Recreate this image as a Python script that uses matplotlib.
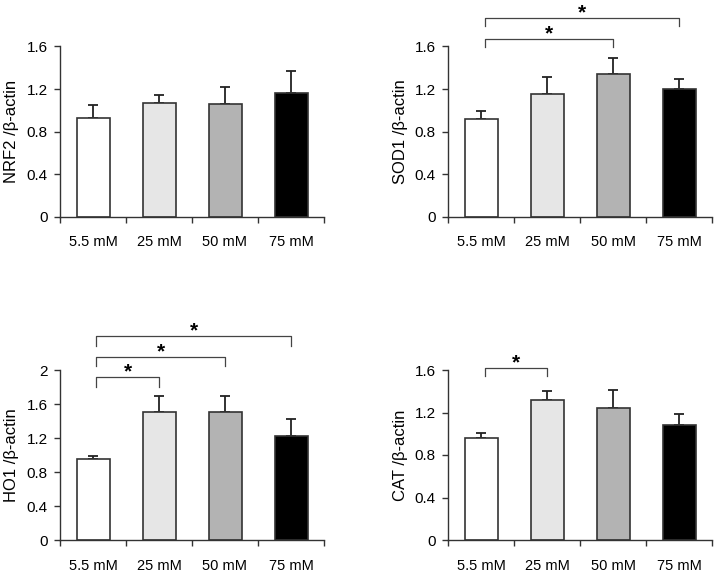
import matplotlib
matplotlib.use("Agg")
import matplotlib.pyplot as plt
from matplotlib.ticker import FuncFormatter, FixedLocator

plt.rcParams['font.family'] = ['Liberation Sans', 'DejaVu Sans']

categories = ["5.5 mM", "25 mM", "50 mM", "75 mM"]
bar_colors = ["#ffffff", "#e6e6e6", "#b3b3b3", "#000000"]

nrf2_mean = [0.93, 1.07, 1.06, 1.16]
nrf2_err = [0.12, 0.07, 0.155, 0.21]
sod1_mean = [0.92, 1.15, 1.345, 1.20]
sod1_err = [0.07, 0.16, 0.15, 0.095]
ho1_mean = [0.95, 1.51, 1.51, 1.22]
ho1_err = [0.04, 0.18, 0.18, 0.20]
cat_mean = [0.96, 1.32, 1.24, 1.08]
cat_err = [0.05, 0.08, 0.17, 0.11]

# brackets: (from index, to index, bracket y, leg bottom y)
sod1_brackets = [(0, 2, 1.674, 1.595), (0, 3, 1.87, 1.79)]
ho1_brackets = [(0, 1, 1.92, 1.80), (0, 2, 2.157, 2.05), (0, 3, 2.40, 2.28)]
cat_brackets = [(0, 1, 1.622, 1.54)]

W, H = 715, 573
fig = plt.figure(figsize=(W / 100, H / 100), dpi=100)

def px_axes(left, right, bottom, top):
    return fig.add_axes([left / W, 1 - bottom / H, (right - left) / W, (bottom - top) / H])

def panel(ax, means, errs, ylabel, ymax, brackets):
    x = [i + 0.5 for i in range(len(categories))]
    ax.bar(x, means, width=0.5, color=bar_colors, edgecolor="#333333", linewidth=1.2, zorder=2)
    ax.errorbar(x, means, yerr=[[0] * len(errs), errs], fmt="none", ecolor="#222222",
                elinewidth=1.3, capsize=3.5, capthick=1.3, zorder=1)
    ax.set_xlim(0, 4)
    ax.set_ylim(0, ymax)
    ax.set_yticks([i * 0.4 for i in range(int(round(ymax / 0.4)) + 1)])
    ax.yaxis.set_major_formatter(FuncFormatter(lambda v, p: f"{v:g}"))
    ax.set_xticks(x)
    ax.set_xticklabels(categories)
    ax.xaxis.set_minor_locator(FixedLocator([0, 1, 2, 3, 4]))
    ax.tick_params(axis="x", which="major", length=0, pad=13.5, labelsize=10.5)
    ax.tick_params(axis="x", which="minor", length=4, width=1, color="#333333", direction="out")
    ax.tick_params(axis="y", length=4, width=1, color="#333333", pad=5, labelsize=11)
    for s in ["top", "right"]:
        ax.spines[s].set_visible(False)
    for s in ["left", "bottom"]:
        ax.spines[s].set_color("#333333")
        ax.spines[s].set_linewidth(1)
    ax.set_ylabel(ylabel, fontsize=12, labelpad=5)
    for i, j, yb, yl in brackets:
        xi, xj = x[i] + 0.05, x[j]
        ax.plot([xi, xi, xj, xj], [yl, yb, yb, yl], color="#444444", lw=0.9, clip_on=False)
        ax.annotate("*", xy=((xi + xj) / 2, yb), xytext=(0, -0.5), textcoords="offset points",
                    ha="center", va="baseline", fontsize=15, fontweight="bold",
                    annotation_clip=False)

ax1 = px_axes(60, 324, 216.7, 46.5)
panel(ax1, nrf2_mean, nrf2_err, "NRF2 /β-actin", 1.6, [])
ax2 = px_axes(448.3, 712.3, 216.7, 46.5)
panel(ax2, sod1_mean, sod1_err, "SOD1 /β-actin", 1.6, sod1_brackets)
ax3 = px_axes(60, 324, 540, 370)
panel(ax3, ho1_mean, ho1_err, "HO1 /β-actin", 2.0, ho1_brackets)
ax4 = px_axes(448.3, 712.3, 540, 370)
panel(ax4, cat_mean, cat_err, "CAT /β-actin", 1.6, cat_brackets)

fig.savefig("out.png", dpi=100)
